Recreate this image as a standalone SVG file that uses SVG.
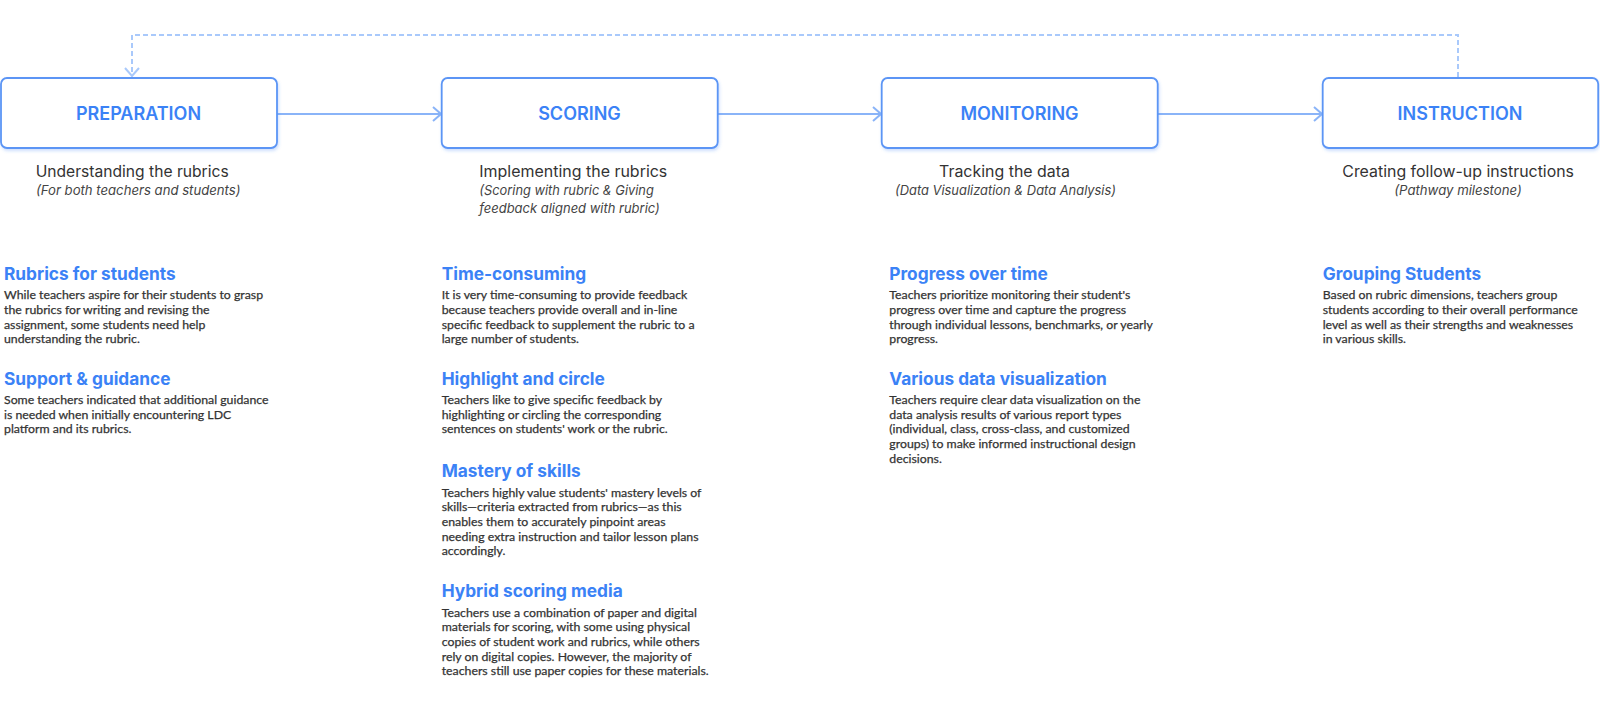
<svg xmlns="http://www.w3.org/2000/svg" width="1600" height="708" viewBox="0 0 1600 708">
<style>
.box{fill:#fff;stroke:#5b95f5;stroke-width:1.8}
.title{font-family:Inter,"Liberation Sans",sans-serif;font-weight:600;font-size:18px;fill:#3b82f6;text-anchor:middle}
.sub{font-family:Inter,"Noto Sans","Liberation Sans",sans-serif;font-size:15.5px;fill:#333}
.subi{font-family:Inter,"Noto Sans","Liberation Sans",sans-serif;font-size:13.5px;font-style:italic;fill:#444}
.h{font-family:Inter,"Liberation Sans",sans-serif;font-weight:700;font-size:17.3px;fill:#3b82f6}
.b{font-family:Lato,"Liberation Sans",sans-serif;font-size:12.3px;fill:#333;stroke:#333;stroke-width:0.25}
.conn{fill:none;stroke:#8ab4f8;stroke-width:2}
.dash{fill:none;stroke:#a9c9fb;stroke-width:2;stroke-dasharray:5 3}
</style>
<defs>
<filter id="sh" x="-10%" y="-10%" width="120%" height="130%">
<feDropShadow dx="1" dy="2" stdDeviation="1.5" flood-color="#3b82f6" flood-opacity="0.25"/>
</filter>
<marker id="chev" viewBox="0 0 12 16" refX="11" refY="8" markerWidth="12" markerHeight="16" markerUnits="userSpaceOnUse" orient="auto">
<polyline points="3,1 11,8 3,15" fill="none" stroke="#8ab4f8" stroke-width="2"/>
</marker>
<marker id="chevd" viewBox="0 0 12 16" refX="11" refY="8" markerWidth="12" markerHeight="16" markerUnits="userSpaceOnUse" orient="auto">
<polyline points="3,1 11,8 3,15" fill="none" stroke="#a9c9fb" stroke-width="2"/>
</marker>
</defs>
<rect width="1600" height="708" fill="#fff"/>

<g id="connectors">
<line class="conn" x1="277" y1="114" x2="441" y2="114" marker-end="url(#chev)"/>
<line class="conn" x1="717" y1="114" x2="881" y2="114" marker-end="url(#chev)"/>
<line class="conn" x1="1158" y1="114" x2="1322" y2="114" marker-end="url(#chev)"/>
<polyline class="dash" points="1458,77 1458,35 132,35 132,76" marker-end="url(#chevd)"/>
</g>

<g id="preparation">
<rect class="box" x="1" y="78" width="276" height="70" rx="6" filter="url(#sh)"/>
<text class="title" x="138.5" y="119.5">PREPARATION</text>
<text class="sub" x="35.7" y="177" textLength="193" lengthAdjust="spacingAndGlyphs">Understanding the rubrics</text>
<text class="subi" x="36" y="195" textLength="204.5" lengthAdjust="spacingAndGlyphs">(For both teachers and students)</text>
<text class="h" x="4" y="280">Rubrics for students</text>
<text class="b" x="4" y="299.3">While teachers aspire for their students to grasp</text>
<text class="b" x="4" y="314">the rubrics for writing and revising the</text>
<text class="b" x="4" y="328.7">assignment, some students need help</text>
<text class="b" x="4" y="343.3">understanding the rubric.</text>
<text class="h" x="4" y="385">Support &amp; guidance</text>
<text class="b" x="4" y="404">Some teachers indicated that additional guidance</text>
<text class="b" x="4" y="418.7">is needed when initially encountering LDC</text>
<text class="b" x="4" y="433.3">platform and its rubrics.</text>
</g>

<g id="scoring">
<rect class="box" x="441.7" y="78" width="276" height="70" rx="6" filter="url(#sh)"/>
<text class="title" x="579.5" y="119.5">SCORING</text>
<text class="sub" x="479.3" y="177" textLength="188" lengthAdjust="spacingAndGlyphs">Implementing the rubrics</text>
<text class="subi" x="479.3" y="195" textLength="174.5" lengthAdjust="spacingAndGlyphs">(Scoring with rubric &amp; Giving</text>
<text class="subi" x="479.3" y="213" textLength="180.5" lengthAdjust="spacingAndGlyphs">feedback aligned with rubric)</text>
<text class="h" x="441.7" y="280">Time-consuming</text>
<text class="b" x="441.7" y="299.3">It is very time-consuming to provide feedback</text>
<text class="b" x="441.7" y="314">because teachers provide overall and in-line</text>
<text class="b" x="441.7" y="328.7">specific feedback to supplement the rubric to a</text>
<text class="b" x="441.7" y="343.3">large number of students.</text>
<text class="h" x="441.7" y="385">Highlight and circle</text>
<text class="b" x="441.7" y="404">Teachers like to give specific feedback by</text>
<text class="b" x="441.7" y="418.7">highlighting or circling the corresponding</text>
<text class="b" x="441.7" y="433.3">sentences on students' work or the rubric.</text>
<text class="h" x="441.7" y="477.3">Mastery of skills</text>
<text class="b" x="441.7" y="496.7">Teachers highly value students' mastery levels of</text>
<text class="b" x="441.7" y="511.3">skills—criteria extracted from rubrics—as this</text>
<text class="b" x="441.7" y="526">enables them to accurately pinpoint areas</text>
<text class="b" x="441.7" y="540.7">needing extra instruction and tailor lesson plans</text>
<text class="b" x="441.7" y="555.3">accordingly.</text>
<text class="h" x="441.7" y="596.7">Hybrid scoring media</text>
<text class="b" x="441.7" y="616.7">Teachers use a combination of paper and digital</text>
<text class="b" x="441.7" y="631.3">materials for scoring, with some using physical</text>
<text class="b" x="441.7" y="646">copies of student work and rubrics, while others</text>
<text class="b" x="441.7" y="660.7">rely on digital copies. However, the majority of</text>
<text class="b" x="441.7" y="675.3">teachers still use paper copies for these materials.</text>
</g>

<g id="monitoring">
<rect class="box" x="881.7" y="78" width="276" height="70" rx="6" filter="url(#sh)"/>
<text class="title" x="1019.5" y="119.5">MONITORING</text>
<text class="sub" x="939" y="177" textLength="131" lengthAdjust="spacingAndGlyphs">Tracking the data</text>
<text class="subi" x="895" y="195" textLength="221" lengthAdjust="spacingAndGlyphs">(Data Visualization &amp; Data Analysis)</text>
<text class="h" x="889.3" y="280">Progress over time</text>
<text class="b" x="889.3" y="299.3">Teachers prioritize monitoring their student's</text>
<text class="b" x="889.3" y="314">progress over time and capture the progress</text>
<text class="b" x="889.3" y="328.7">through individual lessons, benchmarks, or yearly</text>
<text class="b" x="889.3" y="343.3">progress.</text>
<text class="h" x="889.3" y="385">Various data visualization</text>
<text class="b" x="889.3" y="404">Teachers require clear data visualization on the</text>
<text class="b" x="889.3" y="418.7">data analysis results of various report types</text>
<text class="b" x="889.3" y="433.3">(individual, class, cross-class, and customized</text>
<text class="b" x="889.3" y="448">groups) to make informed instructional design</text>
<text class="b" x="889.3" y="462.7">decisions.</text>
</g>

<g id="instruction">
<rect class="box" x="1322.7" y="78" width="275.5" height="70" rx="6" filter="url(#sh)"/>
<text class="title" x="1460" y="119.5">INSTRUCTION</text>
<text class="sub" x="1342.3" y="177" textLength="231.7" lengthAdjust="spacingAndGlyphs">Creating follow-up instructions</text>
<text class="subi" x="1394.3" y="195" textLength="127.4" lengthAdjust="spacingAndGlyphs">(Pathway milestone)</text>
<text class="h" x="1322.7" y="280">Grouping Students</text>
<text class="b" x="1322.7" y="299.3">Based on rubric dimensions, teachers group</text>
<text class="b" x="1322.7" y="314">students according to their overall performance</text>
<text class="b" x="1322.7" y="328.7">level as well as their strengths and weaknesses</text>
<text class="b" x="1322.7" y="343.3">in various skills.</text>
</g>
</svg>
